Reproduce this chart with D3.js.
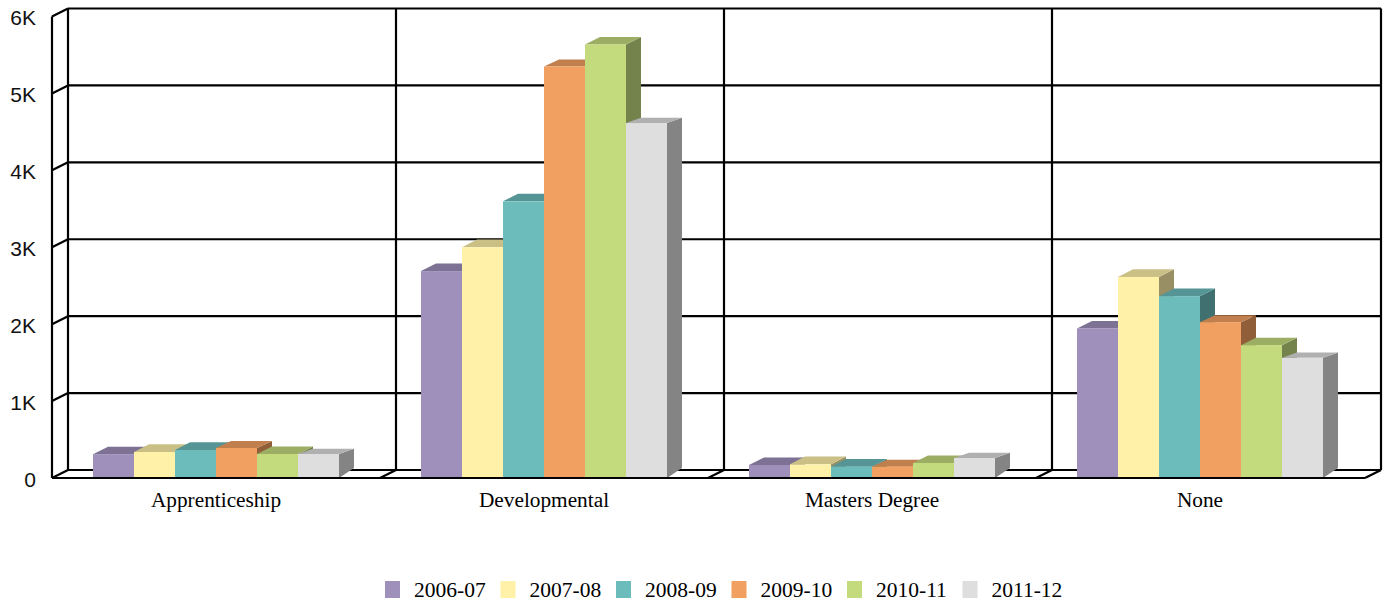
<!DOCTYPE html>
<html>
<head>
<meta charset="utf-8">
<script src="https://cdnjs.cloudflare.com/ajax/libs/d3/7.8.5/d3.min.js"></script>
<style>
  html, body { margin: 0; padding: 0; background: #fff; }
  svg { display: block; }
</style>
</head>
<body>
<div class="container"></div>
<script>
// values
const categories = ["Apprenticeship", "Developmental", "Masters Degree", "None"];
const seriesNames = ["2006-07", "2007-08", "2008-09", "2009-10", "2010-11", "2011-12"];
const values2006 = [310, 2690, 169, 1944];
const values2007 = [338, 3000, 178, 2614];
const values2008 = [364, 3597, 147, 2364];
const values2009 = [390, 5350, 147, 2026];
const values2010 = [312, 5636, 195, 1727];
const values2011 = [312, 4615, 260, 1562];
const tickValues = [0, 1000, 2000, 3000, 4000, 5000, 6000];
const tickLabels = ["0", "1K", "2K", "3K", "4K", "5K", "6K"];
const colors = ["#9e8fbb", "#fff2a8", "#6cbcbc", "#f2a061", "#c3db7d", "#dedede"];

const allValues = [values2006, values2007, values2008, values2009, values2010, values2011];

const w = 1384;
const h = 601;

// the front plane of the box, and how far the back wall is shifted from it
const left = 52;
const right = 1365;
const base = 478;
const top3d = 16.5;
const depthX = 16;
const depthY = 8;

// bars are a bit shallower than the box
const barDepthX = 15;
const barDepthY = [7.5, 7.7, 7.7, 7, 7.5, 5.3];

const svg = d3.select(".container")
  .append("svg")
  .attr("width", w)
  .attr("height", h)
  .attr("viewBox", `0 0 ${w} ${h}`);

const y = d3.scaleLinear().domain([0, 6000]).range([base, top3d]);
const x0 = d3.scaleBand().domain(categories).range([left, right - 1]);
const x1 = d3.scaleBand().domain(seriesNames).range([0, x0.bandwidth()]).paddingOuter(1);

/* the box: left wall, back wall and floor */
const box = svg.append("g")
  .attr("fill", "none")
  .attr("stroke", "#000")
  .attr("stroke-width", 2.2);

function boxLine(x1_, y1_, x2_, y2_) {
  box.append("line").attr("x1", x1_).attr("y1", y1_).attr("x2", x2_).attr("y2", y2_);
}

tickValues.forEach((t) => {
  // back wall line and the slanted piece on the left wall
  boxLine(left + depthX, y(t) - depthY, right + depthX, y(t) - depthY);
  boxLine(left, y(t), left + depthX, y(t) - depthY);
});
boxLine(left, y(6000), left, base);
boxLine(left + depthX, y(6000) - depthY, left + depthX, base - depthY);
boxLine(right + depthX, y(6000) - depthY, right + depthX, base - depthY);
boxLine(right, base, right + depthX, base - depthY);
categories.slice(1).forEach((c) => {
  boxLine(x0(c) + depthX, y(6000) - depthY, x0(c) + depthX, base - depthY);
  boxLine(x0(c), base, x0(c) + depthX, base - depthY);
});

/* y axis labels only */
const yAxis = d3.axisLeft(y)
  .tickValues(tickValues)
  .tickFormat((d, i) => tickLabels[i])
  .tickSize(0)
  .tickPadding(16);

svg.append("g")
  .attr("transform", `translate(${left}, 1.5)`)
  .call(yAxis)
  .call((g) => g.select(".domain").remove())
  .call((g) => g.selectAll("text")
    .attr("font-family", "'Liberation Sans', Arial, sans-serif")
    .attr("font-size", 21)
    .attr("fill", "#111"));

/* category labels */
const xAxis = d3.axisBottom(x0).tickSize(0).tickPadding(14);

svg.append("g")
  .attr("transform", `translate(0, ${base})`)
  .call(xAxis)
  .call((g) => g.select(".domain").remove())
  .call((g) => g.selectAll("text")
    .attr("font-family", "'Liberation Serif', 'Times New Roman', serif")
    .attr("font-size", 21.3)
    .attr("fill", "#000"));

/* bars, series by series so each one covers the side of the one before */
const bars = [];
categories.forEach((c, ci) => {
  seriesNames.forEach((s, si) => {
    bars.push({ category: c, series: s, si: si, value: allValues[si][ci] });
  });
});

const pts = (list) => list.map((p) => p.join(",")).join(" ");

const bar = svg.append("g")
  .selectAll("g")
  .data(bars)
  .enter()
  .append("g");

// side face
bar.append("polygon")
  .attr("fill", (d) => d3.rgb(colors[d.si]).darker(1.45))
  .attr("points", (d) => {
    const xr = x0(d.category) + x1(d.series) + x1.bandwidth();
    const dy = barDepthY[d.si];
    return pts([[xr, y(d.value)], [xr + barDepthX, y(d.value) - dy], [xr + barDepthX, base - 10], [xr, base]]);
  });

// top face
bar.append("polygon")
  .attr("fill", (d) => d3.rgb(colors[d.si]).darker(0.65))
  .attr("points", (d) => {
    const xl = x0(d.category) + x1(d.series);
    const xr = xl + x1.bandwidth();
    const dy = barDepthY[d.si];
    return pts([[xl, y(d.value)], [xl + barDepthX, y(d.value) - dy], [xr + barDepthX, y(d.value) - dy], [xr, y(d.value)]]);
  });

// front face
bar.append("rect")
  .attr("x", (d) => x0(d.category) + x1(d.series))
  .attr("y", (d) => y(d.value))
  .attr("width", x1.bandwidth())
  .attr("height", (d) => base - y(d.value))
  .attr("fill", (d) => colors[d.si]);

// front edge of the floor runs under the bars
svg.append("line")
  .attr("x1", left)
  .attr("y1", base)
  .attr("x2", right)
  .attr("y2", base)
  .attr("stroke", "#000")
  .attr("stroke-width", 1.8);

/* legend */
const legendX = d3.scaleBand().domain(seriesNames).range([385, 1078]);

const legend = svg.append("g")
  .selectAll("g")
  .data(seriesNames)
  .enter()
  .append("g")
  .attr("transform", (d) => `translate(${legendX(d)}, 581)`);

legend.append("rect")
  .attr("width", 15)
  .attr("height", 17)
  .attr("fill", (d, i) => colors[i]);

legend.append("text")
  .attr("x", 29)
  .attr("y", 16)
  .attr("font-family", "'Liberation Serif', 'Times New Roman', serif")
  .attr("font-size", 21.5)
  .attr("fill", "#000")
  .text((d) => d);
</script>
</body>
</html>
